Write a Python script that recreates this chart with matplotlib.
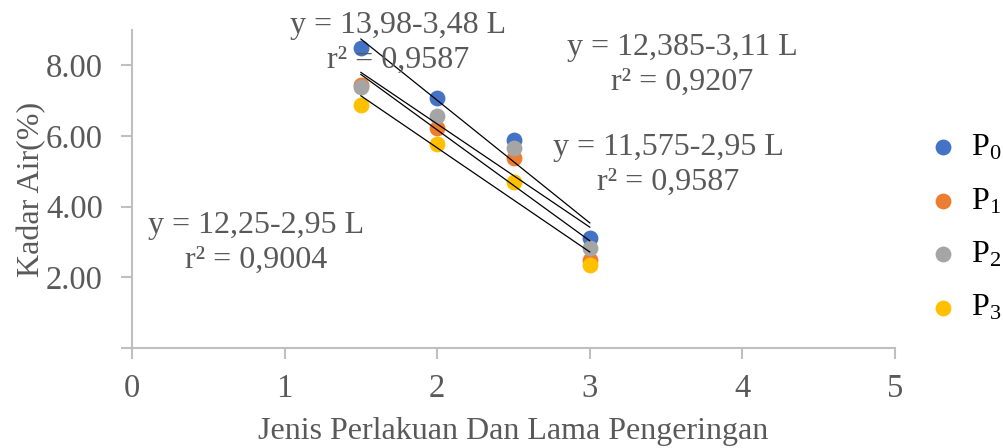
import numpy as np
import matplotlib
matplotlib.use('Agg')
import matplotlib.pyplot as plt

plt.rcParams['font.family'] = ['Liberation Serif', 'DejaVu Serif']
plt.rcParams['mathtext.fontset'] = 'custom'
plt.rcParams['mathtext.rm'] = 'Liberation Serif'
plt.rcParams['mathtext.it'] = 'Liberation Serif:italic'

# data
lama = [1.5, 2.0, 2.5, 3.0]
p0 = [8.49, 7.08, 5.90, 3.10]
p1 = [7.44, 6.23, 5.39, 2.49]
p2 = [7.38, 6.58, 5.66, 2.82]
p3 = [6.89, 5.78, 4.70, 2.34]
labels = ['P$_0$', 'P$_1$', 'P$_2$', 'P$_3$']
colors = ['#4472C4', '#ED7D31', '#A5A5A5', '#FFC000']

persamaan = ['y = 13,98-3,48 L\nr² = 0,9587',
             'y = 12,385-3,11 L\nr² = 0,9207',
             'y = 11,575-2,95 L\nr² = 0,9587',
             'y = 12,25-2,95 L\nr² = 0,9004']

W, H = 1004, 448
fig = plt.figure(figsize=(W / 100, H / 100), dpi=100)
ax = fig.add_axes([132 / W, 1 - 348 / H, (895 - 132) / W, (348 - 30) / H])

gray_txt = '#595959'
axis_col = '#BFBFBF'

x = np.array(lama)
for ys, lab, c in zip([p0, p1, p2, p3], labels, colors):
    ax.scatter(lama, ys, s=130, color=c, label=lab, zorder=3, linewidths=0)

# linear trendlines
for ys in [p0, p1, p2, p3]:
    m, b = np.polyfit(x, ys, 1)
    xx = np.array([x.min(), x.max()])
    ax.plot(xx, m * xx + b, color='black', lw=0.9, zorder=4)

ax.set_xlim(0, 5)
ax.set_ylim(0, 9)
ax.set_xticks([0, 1, 2, 3, 4, 5])
ax.set_yticks([0, 2, 4, 6, 8])
ax.set_yticklabels(['', '2.00', '4.00', '6.00', '8.00'])

for s in ['top', 'right']:
    ax.spines[s].set_visible(False)
for s in ['left', 'bottom']:
    ax.spines[s].set_color(axis_col)
    ax.spines[s].set_linewidth(1.5)
ax.tick_params(colors=axis_col, labelcolor=gray_txt, labelsize=23.5,
               length=8, width=1.5, direction='out')
ax.tick_params(axis='x', pad=10)
ax.tick_params(axis='y', pad=13)

ax.set_ylabel('Kadar Air(%)', fontsize=23, color=gray_txt, labelpad=0)
ax.set_xlabel('Jenis Perlakuan Dan Lama Pengeringan', fontsize=23,
              color=gray_txt, labelpad=10)

# equation labels (pixel positions of text centres)
posisi = [(398, 43), (682, 65), (668, 165), (256, 243)]
for teks, (px, py) in zip(persamaan, posisi):
    fig.text(px / W, 1 - py / H, teks, ha='center', va='center',
             fontsize=23, color=gray_txt, linespacing=1.25)

leg = ax.legend(loc='center left', bbox_to_anchor=(933 / W, 1 - 228 / H),
                bbox_transform=fig.transFigure, frameon=False, fontsize=23,
                handlelength=0.6, handletextpad=0.6, labelspacing=0.75,
                borderpad=0, borderaxespad=0)

fig.savefig('out.png', dpi=100)
